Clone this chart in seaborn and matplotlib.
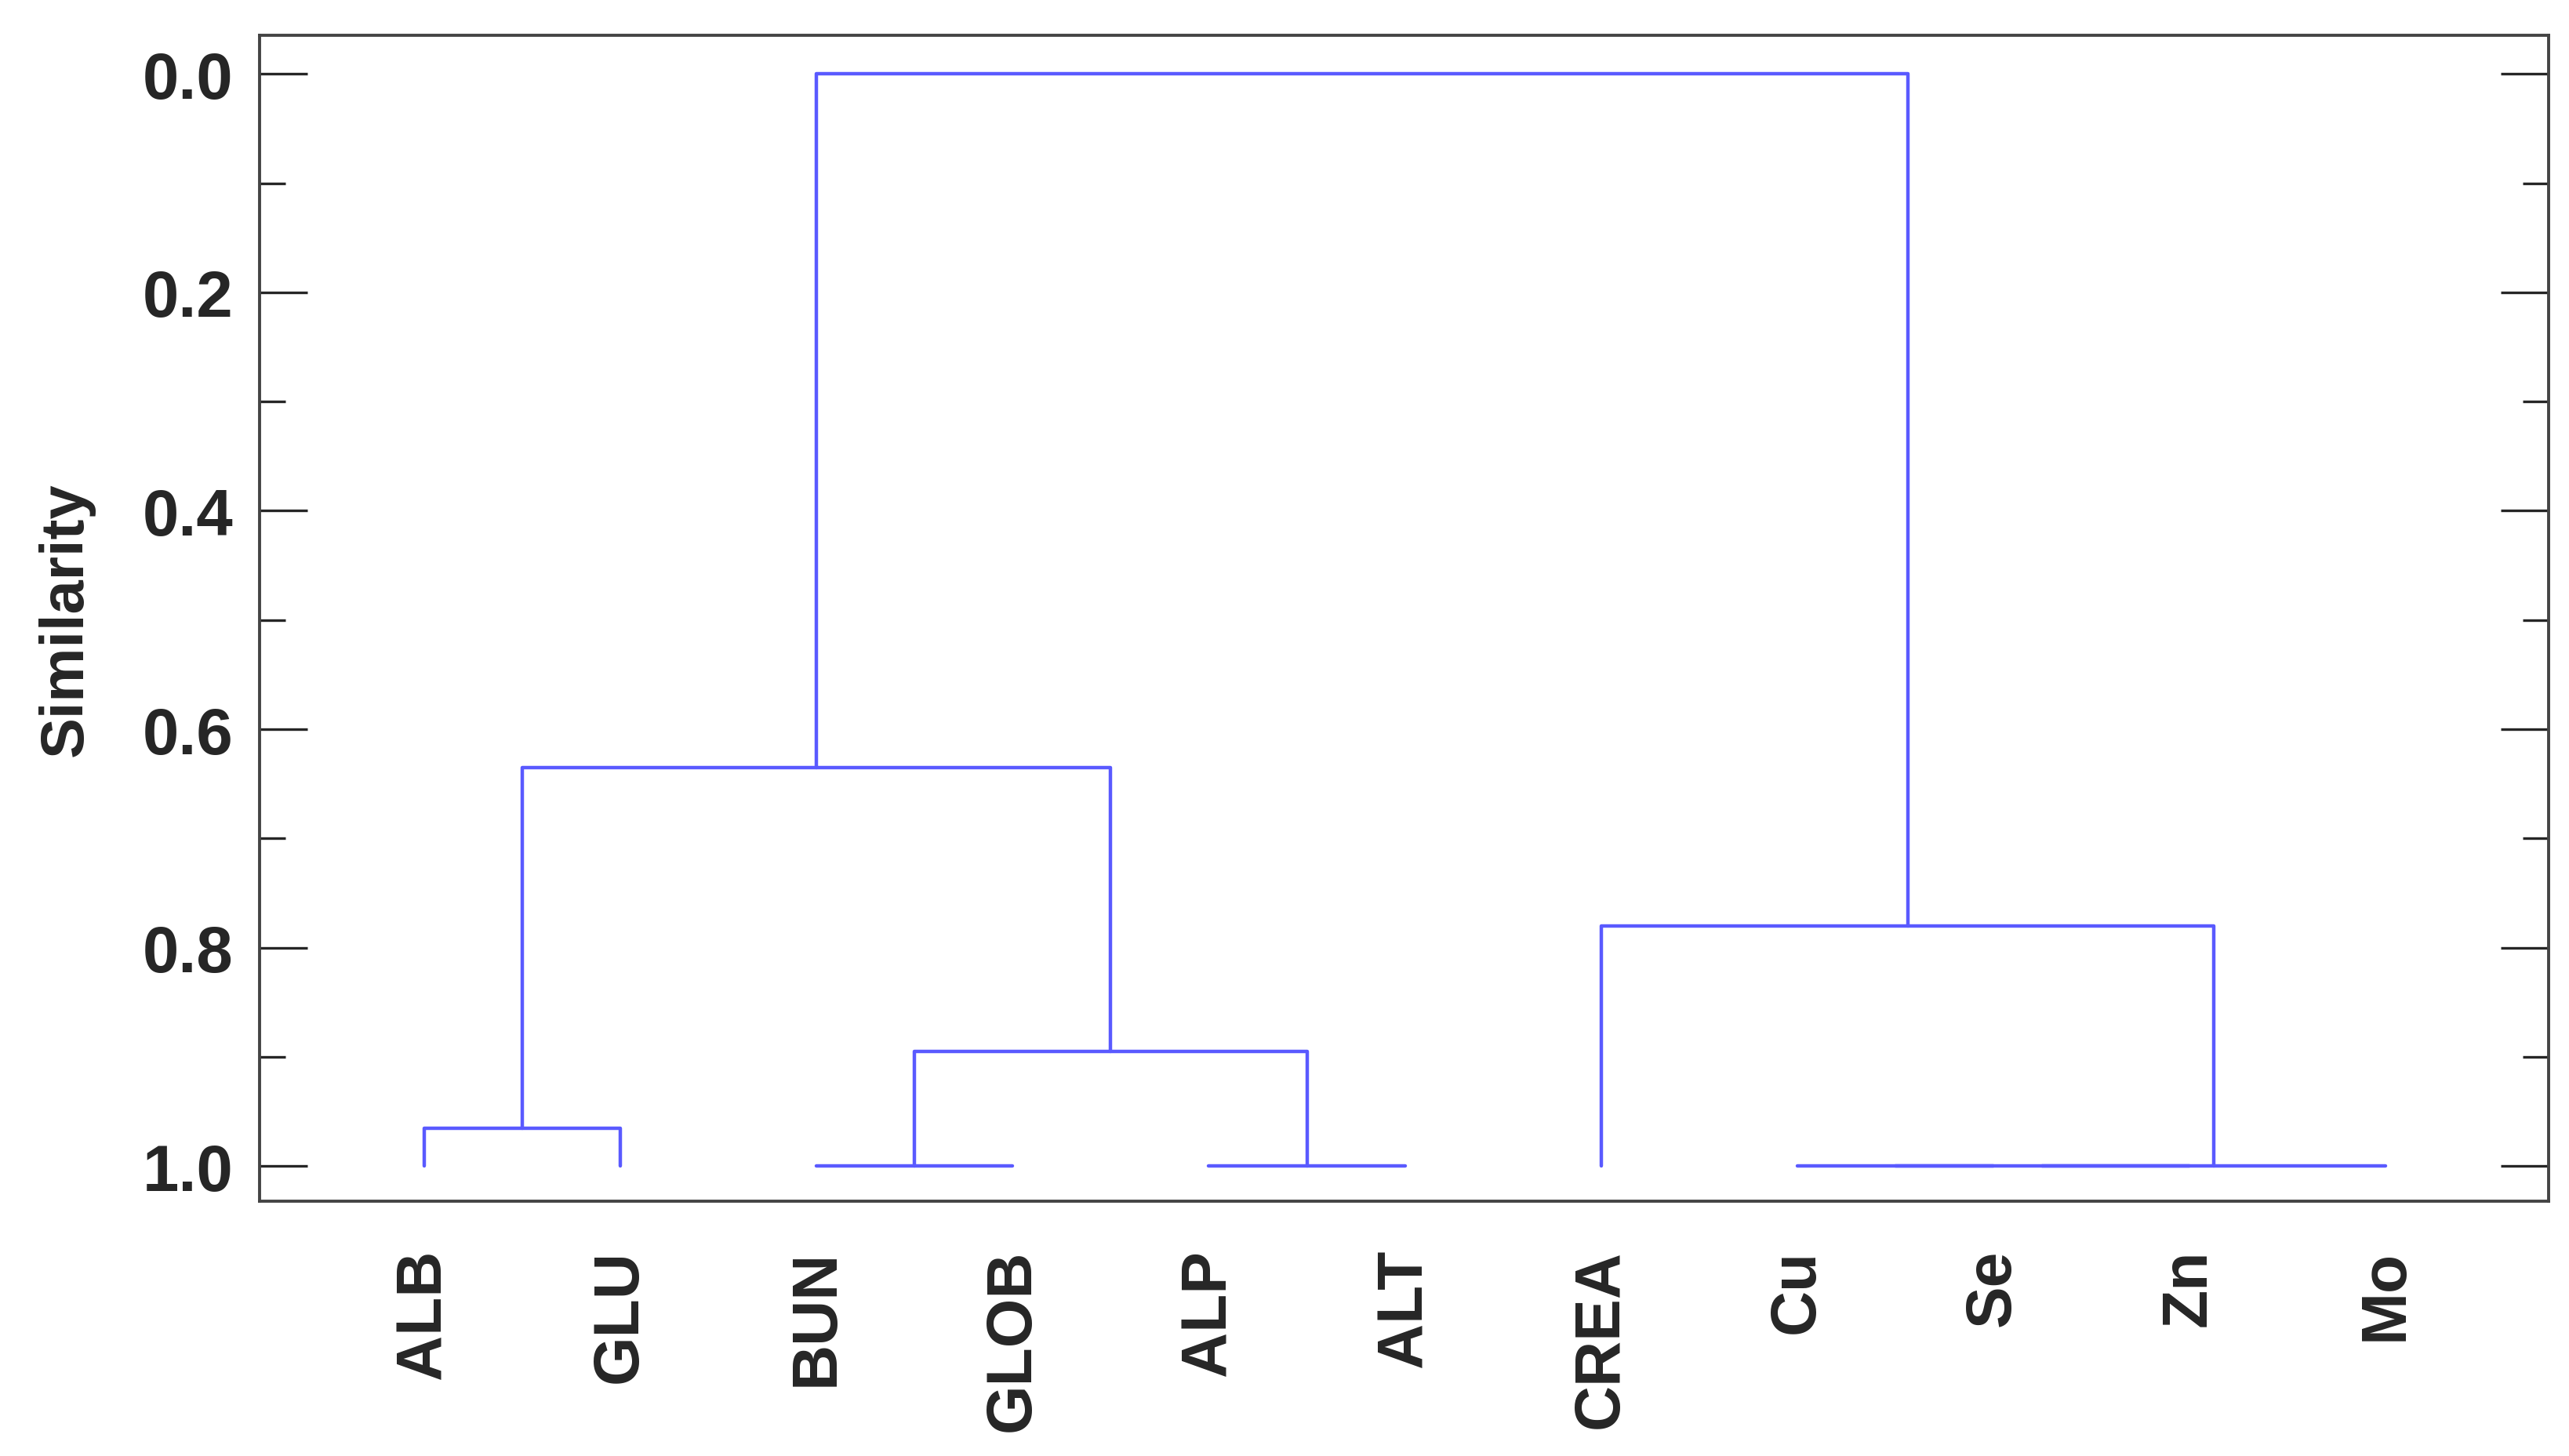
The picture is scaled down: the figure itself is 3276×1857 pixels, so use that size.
import numpy as np
import matplotlib
matplotlib.use("Agg")
import matplotlib.pyplot as plt
import seaborn as sns
from matplotlib.ticker import MultipleLocator

# leaf order along x
leaves = ['ALB', 'GLU', 'BUN', 'GLOB', 'ALP', 'ALT', 'CREA', 'Cu', 'Se', 'Zn', 'Mo']
# merges: (left node, right node, similarity); new nodes numbered from len(leaves)
merges = [
    (0, 1, 0.965),     # 11 ALB+GLU
    (2, 3, 1.0),       # 12 BUN+GLOB
    (4, 5, 1.0),       # 13 ALP+ALT
    (12, 13, 0.895),   # 14
    (11, 14, 0.635),   # 15
    (7, 8, 1.0),       # 16 Cu+Se
    (16, 9, 1.0),      # 17 +Zn
    (17, 10, 1.0),     # 18 +Mo
    (6, 18, 0.78),     # 19 CREA+...
    (15, 19, 0.0),     # 20 root
]

sns.set_style("ticks")
plt.rcParams['font.family'] = ['Liberation Sans', 'DejaVu Sans']

fig = plt.figure(figsize=(16.38, 9.29), dpi=200)
ax = fig.add_axes([0.101, 0.175, 0.891, 0.8])

color = '#5a5aff'
xpos = {i: float(i) for i in range(len(leaves))}
ypos = {i: 1.0 for i in range(len(leaves))}
for k, (a, b, h) in enumerate(merges):
    node = len(leaves) + k
    xa, xb = xpos[a], xpos[b]
    ax.plot([xa, xa, xb, xb], [ypos[a], h, h, ypos[b]], color=color, lw=1.6)
    xpos[node] = (xa + xb) / 2
    ypos[node] = h

ax.set_xlim(-0.84, 10.83)
ax.set_ylim(1.032, -0.035)
ax.set_xticks(range(len(leaves)))
ax.set_xticklabels(leaves, rotation=90, fontsize=29, fontweight='bold')
ax.tick_params(axis='x', length=0, pad=22)
ax.yaxis.set_minor_locator(MultipleLocator(0.1))
ax.set_yticks(np.arange(0, 1.01, 0.2))
ax.set_yticklabels([f'{v:.1f}' for v in np.arange(0, 1.01, 0.2)], fontsize=30, fontweight='bold')
ax.tick_params(axis='y', which='both', direction='in', right=True, length=22, width=1.2, pad=12)
ax.tick_params(axis='y', which='minor', length=12)
ax.set_ylabel('Similarity', fontsize=28, fontweight='bold', labelpad=22)
for s in ax.spines.values():
    s.set_linewidth(1.4)
    s.set_color('#444444')

fig.savefig('out.png', dpi=200)
